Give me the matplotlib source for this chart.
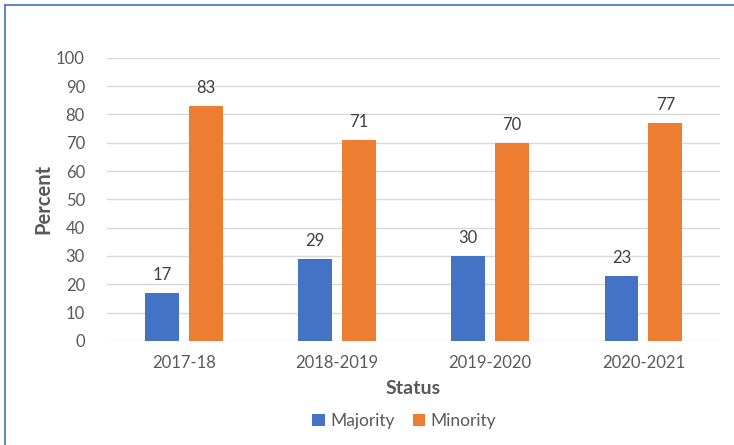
import numpy as np
import matplotlib.pyplot as plt
from matplotlib.lines import Line2D

# 数据
years = ['2017-18', '2018-2019', '2019-2020', '2020-2021']
majority = [17, 29, 30, 23]
minority = [83, 71, 70, 77]
yticks = [0, 10, 20, 30, 40, 50, 60, 70, 80, 90, 100]

plt.rcParams['font.family'] = ['Lato', 'DejaVu Sans']
txt = '#595959'

fig = plt.figure(figsize=(7.34, 4.45), dpi=100)
ax = fig.add_axes([0.146, 0.234, 0.835, 0.636])

x = np.arange(len(years))
w = 0.22
off = 0.143
b1 = ax.bar(x - off, majority, w, color='#4472C4', label='Majority', zorder=3)
b2 = ax.bar(x + off, minority, w, color='#ED7D31', label='Minority', zorder=3)

for bars in (b1, b2):
    for r in bars:
        ax.annotate(f'{r.get_height():.0f}', (r.get_x() + r.get_width() / 2, r.get_height()),
                    xytext=(0, 7), textcoords='offset points', ha='center', va='bottom',
                    fontsize=12, color='#404040')

ax.set_xlim(-0.5, len(years) - 0.5)
ax.set_ylim(0, 100)
ax.set_yticks(yticks)
ax.set_xticks(x)
ax.set_xticklabels(years)
ax.tick_params(length=0, labelsize=12, colors=txt)
ax.tick_params(axis='y', pad=16)
ax.tick_params(axis='x', pad=10)
ax.grid(axis='y', color='#D9D9D9', lw=1, zorder=0)
for s in ax.spines.values():
    s.set_visible(False)

ax.set_ylabel('Percent', fontsize=14.5, fontweight='bold', color=txt, labelpad=2)
ax.set_xlabel('Status', fontsize=14, fontweight='bold', color=txt, labelpad=7)

ax.legend(loc='upper center', bbox_to_anchor=(0.485, -0.2), ncol=2, frameon=False,
          fontsize=12.5, labelcolor=txt, handlelength=0.7, handleheight=0.7,
          handletextpad=0.35, columnspacing=1.0)

# 外框（只看得到上边和左边）
fig.add_artist(Line2D([5 / 734, 1], [1 - 5 / 445, 1 - 5 / 445], color='#4472C4', lw=1.2))
fig.add_artist(Line2D([5 / 734, 5 / 734], [0, 1 - 5 / 445], color='#4472C4', lw=1.2))

fig.savefig('out.png', dpi=100)
